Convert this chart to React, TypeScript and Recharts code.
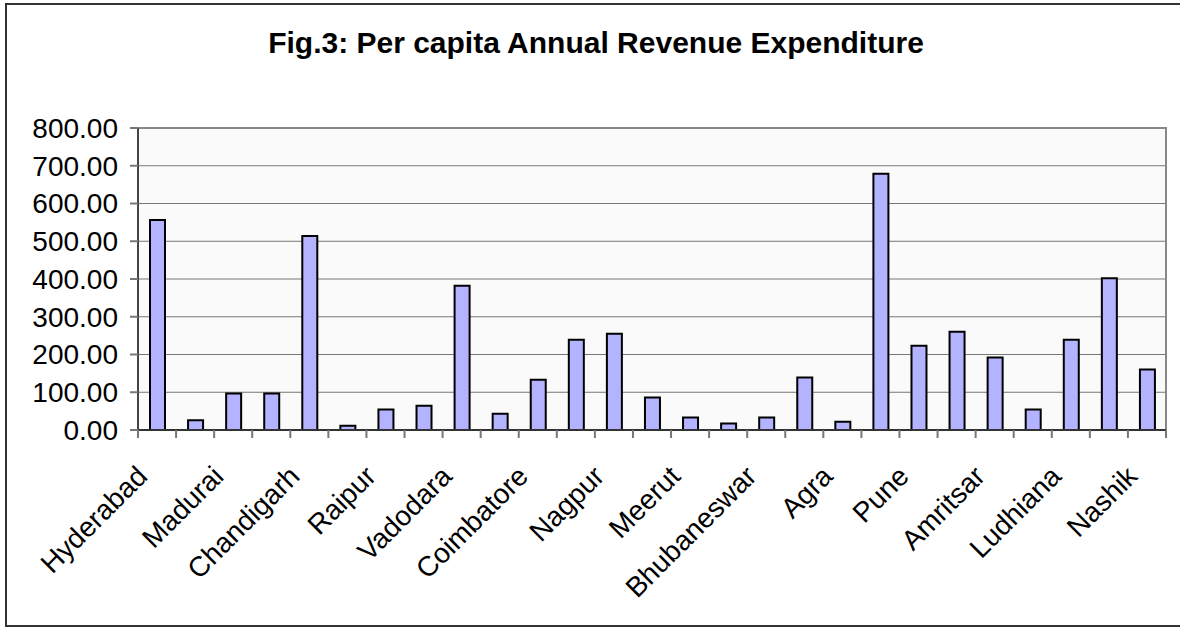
import React from 'react';
import { BarChart, Bar, XAxis, YAxis, CartesianGrid, ReferenceArea } from 'recharts';

// every other city is labelled on the axis, like the original
const cities = [
  'Hyderabad', 'Vijayawada', 'Madurai', 'Jaipur', 'Chandigarh', 'Indore', 'Raipur', 'Rajkot', 'Vadodara',
  'Surat', 'Coimbatore', 'Kochi', 'Nagpur', 'Jabalpur', 'Meerut', 'Varanasi', 'Bhubaneswar', 'Patna',
  'Agra', 'Kanpur', 'Pune', 'Lucknow', 'Amritsar', 'Jalandhar', 'Ludhiana', 'Jodhpur', 'Nashik',
];
const expenditure = [
  556, 26, 97, 97, 514, 11, 54, 64, 382,
  43, 133, 239, 255, 86, 33, 17, 33, 139,
  22, 679, 223, 260, 192, 54, 239, 402, 160,
];
const yTicks = [0, 100, 200, 300, 400, 500, 600, 700, 800];

const data = cities.map((city, i) => ({ city, value: expenditure[i] }));

const FONT = '"Liberation Sans", Arial, Helvetica, sans-serif';
const PLOT_LEFT = 138;
const PLOT_RIGHT = 1166;
const BAND = (PLOT_RIGHT - PLOT_LEFT) / cities.length;

function CityTick(props: any) {
  const { x, y, index, payload } = props;
  const half = (payload && payload.offset) || BAND / 2;
  const lx = x - 8;
  const ly = y + 48;
  return (
    <g>
      <line x1={x - half} x2={x - half} y1={y} y2={y + 8} stroke="#777" strokeWidth={2} />
      {index === cities.length - 1 && (
        <line x1={x + half} x2={x + half} y1={y} y2={y + 8} stroke="#777" strokeWidth={2} />
      )}
      {index % 2 === 0 && (
        <text
          x={lx}
          y={ly}
          textAnchor="end"
          transform={`rotate(-45, ${lx}, ${ly})`}
          fontSize={28}
          fontFamily={FONT}
          fill="#000"
        >
          {payload.value}
        </text>
      )}
    </g>
  );
}

export default function App() {
  return (
    <div style={{ position: 'absolute', left: 0, top: 0, width: 1180, height: 628, overflow: 'hidden', background: '#fff' }}>
      <div
        style={{
          position: 'absolute',
          left: 5,
          top: 3,
          width: 1200,
          height: 620,
          border: '2px solid #333',
        }}
      />
      <div
        style={{
          position: 'absolute',
          left: 0,
          top: 26,
          width: 1192,
          textAlign: 'center',
          fontFamily: FONT,
          fontWeight: 'bold',
          fontSize: 30,
          lineHeight: '34px',
          color: '#000',
        }}
      >
        Fig.3: Per capita Annual Revenue Expenditure
      </div>
      <div style={{ position: 'absolute', left: 0, top: 0 }}>
        <BarChart
          width={1180}
          height={628}
          data={data}
          margin={{ top: 128, right: 1180 - PLOT_RIGHT, bottom: 0, left: 0 }}
        >
          <CartesianGrid vertical={false} stroke="#777" fill="#FAFAFA" />
          <ReferenceArea y1={0} y2={800} fill="none" stroke="#888" strokeWidth={2} />
          <XAxis
            dataKey="city"
            interval={0}
            height={198}
            tickSize={0}
            tickMargin={0}
            tickLine={false}
            axisLine={{ stroke: '#333', strokeWidth: 2 }}
            tick={<CityTick />}
          />
          <YAxis
            width={PLOT_LEFT}
            domain={[0, 800]}
            ticks={yTicks}
            tickFormatter={(v: number) => v.toFixed(2)}
            tick={{ fontSize: 28, fill: '#000', fontFamily: FONT }}
            tickSize={8}
            tickMargin={12}
            tickLine={{ stroke: '#777', strokeWidth: 2 }}
            axisLine={{ stroke: '#444', strokeWidth: 2 }}
          />
          <Bar dataKey="value" fill="#B3B3FF" stroke="#000" strokeWidth={2} barSize={15} isAnimationActive={false} />
        </BarChart>
      </div>
    </div>
  );
}
